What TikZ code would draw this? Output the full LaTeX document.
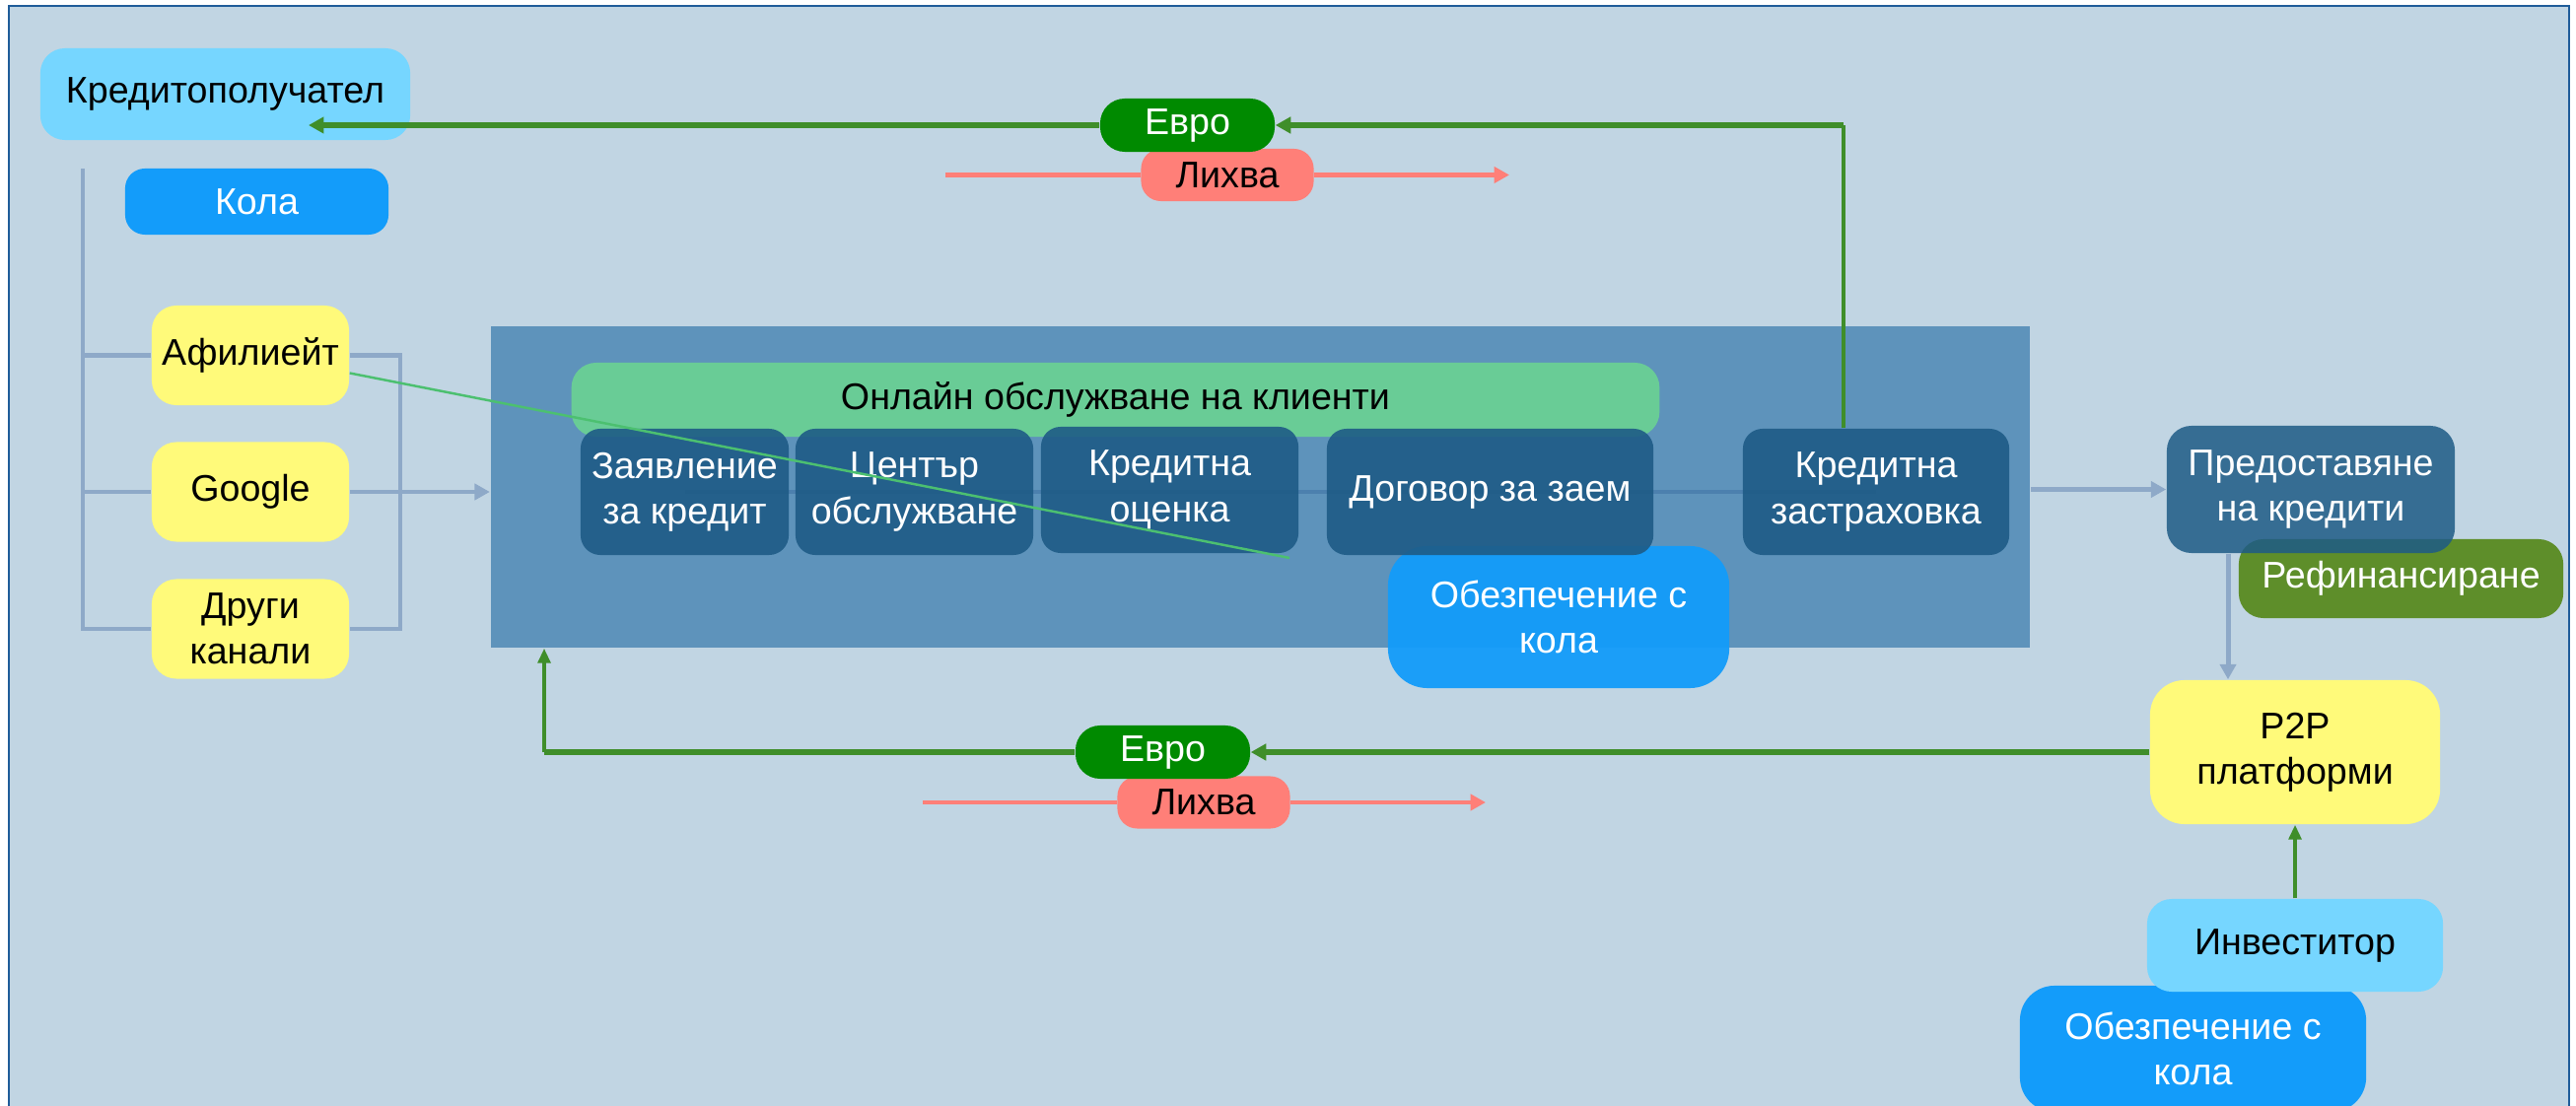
\documentclass[tikz,border=0pt]{standalone}
\usepackage{fontspec}
\setmainfont{Liberation Sans}
\usetikzlibrary{arrows.meta,positioning,calc}

\definecolor{canvas}{HTML}{C1D5E3}
\definecolor{frameblue}{HTML}{1F5C99}
\definecolor{clientcyan}{HTML}{76D6FF}
\definecolor{carblue}{HTML}{139CFA}
\definecolor{chanyellow}{HTML}{FFFA7A}
\definecolor{platblue}{HTML}{5E93BB}
\definecolor{onlinegreen}{HTML}{69CC96}
\definecolor{boxdark}{HTML}{1E5B86}
\definecolor{moneygreen}{HTML}{3F8E2A}
\definecolor{eurogreen}{HTML}{008A00}
\definecolor{ratered}{HTML}{FF7F78}
\definecolor{refigreen}{HTML}{5E8E2A}
\definecolor{feedgray}{HTML}{8EA9C8}
\definecolor{innerblue}{HTML}{4C80AE}
\definecolor{tiegreen}{HTML}{4CC070}

\begin{document}
\begin{tikzpicture}[x=0.01cm, y=-0.01cm,
  every node/.style={font=\fontsize{10.7}{13.2}\selectfont, align=center, inner sep=1pt},
  roundbox/.style={rectangle, rounded corners=0.25cm},
  channel/.style={roundbox, fill=chanyellow, minimum width=2cm, minimum height=1.01cm},
  darkbox/.style={roundbox, rounded corners=0.2cm, fill=boxdark, fill opacity=0.9, text opacity=1, text=white, minimum height=1.28cm},
  euro/.style={roundbox, fill=eurogreen, text=white, minimum width=1.77cm, minimum height=0.54cm},
  interest/.style={roundbox, rounded corners=0.2cm, fill=ratered, minimum width=1.75cm, minimum height=0.53cm},
  feed/.style={draw=feedgray, line width=1.4pt},
  innerline/.style={draw=innerblue, line width=1.4pt},
  money/.style={draw=moneygreen, line width=1.7pt},
  moneyv/.style={draw=moneygreen, line width=1pt},
  rate/.style={draw=ratered, line width=1.4pt},
  tie/.style={draw=tiegreen, line width=0.7pt},
  flowtip/.style={-{Triangle[length=4.4pt,width=4.6pt]}},
  thintip/.style={-{Triangle[length=4.2pt,width=3.6pt]}}]

\useasboundingbox (0,0) rectangle (2613,1122);
\clip (0,0) rectangle (2613,1122);
\fill[white] (0,0) rectangle (2613,1122);
\draw[draw=frameblue, line width=0.7pt, fill=canvas] (9,6) rectangle (2606,1140);

% Кредитополучател
\node[roundbox, fill=clientcyan, minimum width=3.75cm, minimum height=0.93cm] (borrower) at (228.5,95.5) {Кредитополучател};

% Кола
\node[roundbox, rounded corners=0.2cm, fill=carblue, text=white, minimum width=2.67cm, minimum height=0.67cm] (car) at (260.5,204.5) {Кола};

% канали
\node[channel] (affiliate) at (254,360.5) {Афилиейт};
\node[channel] (google) at (254,499) {Google};
\node[channel] (others) at (254,638) {Други\\канали};

\coordinate (tap) at (84,171);
\coordinate (join) at (406,499);
\draw[feed] (tap) |- (others.west);
\draw[feed] (tap |- affiliate) -- (affiliate.west);
\draw[feed] (tap |- google) -- (google.west);
\draw[feed] (affiliate.east) -| (join) |- (others.east);

% платформа
\node[fill=platblue, minimum width=15.61cm, minimum height=3.26cm] (platform) at (1278.5,494) {};
\draw[feed, flowtip] (google.east) -- (platform.west |- google.east);

% Онлайн обслужване
\node[roundbox, fill=onlinegreen, minimum width=11.03cm, minimum height=0.75cm] (online) at (1131.5,405.5) {Онлайн обслужване на клиенти};

% Обезпечение
\node[roundbox, rounded corners=0.4cm, fill=carblue, fill opacity=0.95, text opacity=1, text=white, minimum width=3.46cm, minimum height=1.44cm] (pledge) at (1581,626) {Обезпечение с\\кола};

% стъпки
\coordinate (stepA) at (694.5,499);
\coordinate (stepE) at (1903,499);
\draw[innerline] (stepA) -- (stepE);
\node[darkbox, minimum width=2.11cm] (apply) at (stepA) {Заявление\\за кредит};
\node[darkbox, minimum width=2.41cm] (service) at (927.5,499) {Център\\обслужване};
\node[darkbox, minimum width=2.61cm] (scoring) at (1186.5,497) {Кредитна\\оценка};
\node[darkbox, minimum width=3.31cm] (contract) at (1511.5,499) {Договор за заем};
\node[darkbox, minimum width=2.70cm] (insurance) at (stepE) {Кредитна\\застраховка};

\coordinate (tieEnd) at (1308,566);
\draw[tie] ($(affiliate.east)+(0,18)$) -- (tieEnd);

% Евро / Лихва горе
\node[interest] (interestTop) at (1245,177.5) {Лихва};
\node[euro] (euroTop) at (1204.5,127) {Евро};
\coordinate (rateTopIn) at (959,177.5);
\coordinate (rateTopOut) at (1531,177.5);
\draw[rate] (rateTopIn) -- (interestTop.west);
\draw[rate, flowtip] (interestTop.east) -- (rateTopOut);

\coordinate (turnTop) at (1870,127);
\coordinate (payIn) at (313,127);
\draw[moneyv] (turnTop |- insurance.north) -- (turnTop);
\draw[money, flowtip] (turnTop) -- (euroTop.east);
\draw[money, flowtip] (euroTop.west) -- (payIn);

% Предоставяне / Рефинансиране
\node[roundbox, fill=refigreen, text=white, minimum width=3.29cm, minimum height=0.8cm] (refinance) at (2435.5,587) {Рефинансиране};
\node[roundbox, fill=boxdark, fill opacity=0.85, text opacity=1, text=white, minimum width=2.92cm, minimum height=1.29cm] (lending) at (2344,496.5) {Предоставяне\\на кредити};
\draw[feed, flowtip] (platform.east |- lending) -- (lending.west);

% P2P платформи
\node[channel, rounded corners=0.35cm, minimum width=2.94cm, minimum height=1.46cm] (ptp) at (2328,763) {P2P\\платформи};
\coordinate (drop) at ($(lending.south)+(-84,0)$);
\draw[feed, flowtip] (drop) -- (drop |- ptp.north);

% Инвеститор
\node[roundbox, rounded corners=0.35cm, fill=carblue, text=white, minimum width=3.51cm, minimum height=1.28cm] (pledgeInv) at (2224.5,1064) {Обезпечение с\\кола};
\node[roundbox, fill=clientcyan, minimum width=3cm, minimum height=0.94cm] (investor) at (2328,959) {Инвеститор};
\draw[moneyv, thintip] (investor) -- (ptp);

% Евро / Лихва долу
\node[interest] (interestBottom) at (1221,814) {Лихва};
\node[euro] (euroBottom) at (1179.5,763) {Евро};
\coordinate (rateBotIn) at (936,814);
\coordinate (rateBotOut) at (1507,814);
\draw[rate] (rateBotIn) -- (interestBottom.west);
\draw[rate, flowtip] (interestBottom.east) -- (rateBotOut);

\coordinate (turnBot) at (552,763);
\draw[money, flowtip] (ptp.west |- euroBottom) -- (euroBottom.east);
\draw[money] (euroBottom.west) -- (turnBot);
\draw[moneyv, thintip] (turnBot) -- (turnBot |- platform.south);
\end{tikzpicture}
\end{document}
